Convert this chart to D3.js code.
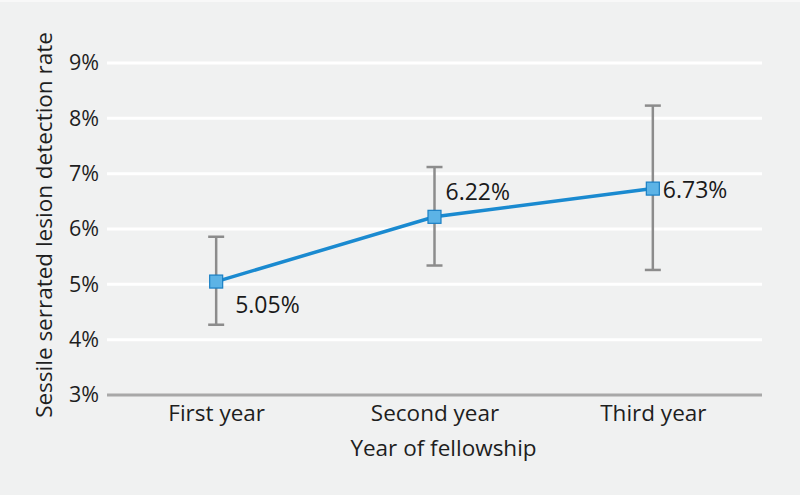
<!DOCTYPE html>
<html><head><meta charset="utf-8">
<script src="https://cdn.jsdelivr.net/npm/d3@7"></script>
<style>body{margin:0;background:#f0f1f1;}svg{display:block;font-family:"Open Sans","Noto Sans",sans-serif;}</style>
</head><body>
<script>
const categories = ["First year", "Second year", "Third year"];
const values = [5.05, 6.22, 6.73];
const lower = [4.27, 5.34, 5.26];
const upper = [5.86, 7.12, 8.23];
const labels = ["5.05%", "6.22%", "6.73%"];
const yTicks = [3, 4, 5, 6, 7, 8, 9];

const W = 800, H = 495;
const m = {left: 107, right: 38, top: 63, bottom: 100};
const svg = d3.select("body").append("svg").attr("width", W).attr("height", H);
svg.append("rect").attr("width", W).attr("height", H).attr("fill", "#f0f1f1");
svg.append("rect").attr("width", W).attr("height", 2).attr("fill", "#f8f8f8");

const x = d3.scalePoint().domain(categories).range([m.left, W - m.right]).padding(0.5);
const y = d3.scaleLinear().domain([3, 9]).range([H - m.bottom, m.top]);

// gridlines
svg.append("g").selectAll("line").data(yTicks.filter(t => t > 3)).join("line")
  .attr("x1", m.left).attr("x2", W - m.right)
  .attr("y1", d => y(d)).attr("y2", d => y(d))
  .attr("stroke", "#ffffff").attr("stroke-width", 3);

// y axis labels
const yAxis = d3.axisLeft(y).tickValues(yTicks).tickFormat(d => d + "%").tickSize(0).tickPadding(8);
const gy = svg.append("g").attr("transform", `translate(${m.left},0)`).call(yAxis);
gy.select(".domain").remove();
gy.selectAll("text").attr("font-size", 21.5).attr("fill", "#1e1e1e").attr("font-family", "'Open Sans',sans-serif");

// x axis
const xAxis = d3.axisBottom(x).tickSize(0).tickPadding(10);
const gx = svg.append("g").attr("transform", `translate(0,${y(3)})`).call(xAxis);
gx.select(".domain").remove();
gx.selectAll("text").attr("font-size", 22.5).attr("fill", "#1e1e1e").attr("font-family", "'Open Sans',sans-serif");
svg.append("line").attr("x1", m.left).attr("x2", W - m.right).attr("y1", y(3)).attr("y2", y(3))
  .attr("stroke", "#a8a8a8").attr("stroke-width", 3);

// error bars
const eb = svg.append("g").attr("stroke", "#8c8c8c").attr("stroke-width", 2.5);
categories.forEach((c, i) => {
  eb.append("line").attr("x1", x(c)).attr("x2", x(c)).attr("y1", y(lower[i])).attr("y2", y(upper[i]));
  eb.append("line").attr("x1", x(c) - 8).attr("x2", x(c) + 8).attr("y1", y(lower[i])).attr("y2", y(lower[i]));
  eb.append("line").attr("x1", x(c) - 8).attr("x2", x(c) + 8).attr("y1", y(upper[i])).attr("y2", y(upper[i]));
});

// line
const line = d3.line().x((d, i) => x(categories[i])).y(d => y(d));
svg.append("path").datum(values).attr("d", line).attr("fill", "none")
  .attr("stroke", "#1a8ad0").attr("stroke-width", 3.5);

// markers
svg.append("g").selectAll("rect").data(values).join("rect")
  .attr("x", (d, i) => x(categories[i]) - 6.5).attr("y", d => y(d) - 6.5)
  .attr("width", 13).attr("height", 13)
  .attr("fill", "#5cb3e6").attr("stroke", "#1a7fc4").attr("stroke-width", 1.2);

// value labels
const offs = [[19, 31], [11, -17], [10, 9]];
svg.append("g").selectAll("text").data(values).join("text")
  .attr("x", (d, i) => x(categories[i]) + offs[i][0])
  .attr("y", (d, i) => y(d) + offs[i][1])
  .attr("font-size", 23).attr("fill", "#1a1a1a")
  .text((d, i) => labels[i]);

// axis titles
svg.append("text").attr("x", (m.left + W - m.right) / 2 + 9).attr("y", 456)
  .attr("text-anchor", "middle").attr("font-size", 22.5).attr("fill", "#1e1e1e").text("Year of fellowship");
svg.append("text").attr("transform", `translate(52,${(y(3) + y(9)) / 2 - 4}) rotate(-90)`)
  .attr("text-anchor", "middle").attr("font-size", 22.5).attr("fill", "#1e1e1e")
  .text("Sessile serrated lesion detection rate");
</script>
</body></html>
